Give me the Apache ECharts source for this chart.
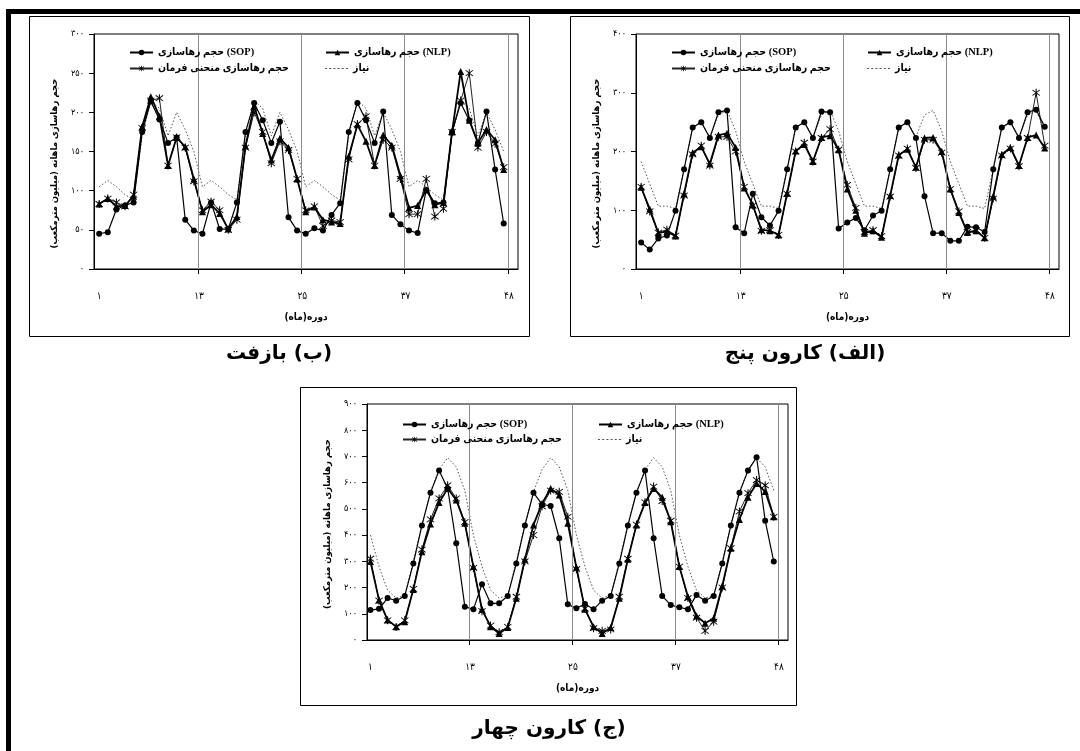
<!DOCTYPE html>
<html>
<head>
    <meta charset="utf-8"/>
    <title>حجم رهاسازی ماهانه</title>
    <script src="https://cdn.jsdelivr.net/npm/echarts@6/dist/echarts.min.js"></script>
    <style>body{margin:0;background:#fff;}</style>
</head>
<body>

<div id="main" style="width:1080px;height:751px;"></div>

<script>
    // ماه ها (۱ تا ۴۸)
    var months = [];
    for (var m = 1; m <= 48; m++) months.push(m);

    var xTickLabels = ['۱', '۱۳', '۲۵', '۳۷', '۴۸'];
    var xLabelPos = [1, 12.6, 24.6, 36.6, 48.6];
    var xGridPos = [12.5, 24.5, 36.5, 48.5];

    var nameSOP = 'حجم رهاسازی (SOP)';
    var nameNLP = 'حجم رهاسازی (NLP)';
    var nameRule = 'حجم رهاسازی منحنی فرمان';
    var nameDemand = 'نیاز';

    // (ب) بازفت
    var bazoftSOP = [45,47,76,81,85,175,214,191,161,168,63,49, 45,85,51,51,85,175,212,190,161,188,66,49,
                     45,52,49,69,84,175,212,190,161,201,69,57, 49,46,101,84,85,175,212,190,161,201,127,58];
    var bazoftNLP = [83,90,80,81,93,182,220,195,132,168,156,115, 73,82,71,51,67,157,208,173,139,167,155,115,
                     73,79,63,60,58,144,184,163,132,171,158,119, 78,81,101,82,85,175,252,190,161,178,165,127];
    var bazoftRule = [83,90,85,80,95,180,215,218,132,168,155,112, 75,86,75,50,63,155,200,175,135,163,152,115,
                      75,80,55,62,60,140,185,195,132,165,155,115, 70,70,115,67,77,175,215,250,155,175,160,130];
    var bazoftDemand = [105,113,105,95,88,170,215,205,170,200,178,150, 105,113,105,95,88,170,215,205,170,200,178,150,
                        105,113,105,95,88,170,215,205,170,200,178,150, 105,113,105,95,88,170,215,205,170,200,178,150];

    // (الف) کارون پنج
    var karun5SOP = [45,33,52,57,99,170,241,250,223,267,270,71, 61,128,88,74,99,170,241,250,223,268,267,69,
                     79,87,66,91,99,170,241,250,223,124,61,61, 48,48,72,71,63,170,241,250,223,267,271,242];
    var karun5NLP = [139,102,61,64,56,128,198,208,179,228,231,207, 138,109,67,65,58,129,201,212,183,224,227,203,
                     136,100,61,65,54,125,194,204,173,223,224,200, 136,96,62,65,53,124,195,207,176,224,228,206];
    var karun5Rule = [140,98,62,67,57,125,195,210,176,225,225,200, 140,108,65,66,58,128,200,215,183,223,238,203,
                      143,104,63,66,56,123,193,205,172,220,220,198, 136,98,63,66,53,120,193,205,175,223,300,210];
    var karun5Demand = [183,145,107,107,103,170,241,250,225,262,270,235, 183,145,107,107,103,170,241,250,225,262,270,235,
                        183,145,107,107,103,170,241,250,225,262,270,235, 183,145,107,107,103,170,241,250,225,262,270,235];

    // (ج) کارون چهار
    var karun4SOP = [114,119,160,150,168,292,437,562,646,578,369,127, 117,213,140,140,168,292,437,562,517,511,388,136,
                     121,137,117,150,168,292,437,562,646,388,168,133, 125,117,172,150,168,292,437,562,646,697,455,299];
    var karun4NLP = [299,153,76,51,70,193,337,442,524,578,534,445, 280,117,51,25,48,159,308,439,521,578,553,445,
                     277,117,51,25,48,159,308,439,524,578,544,451, 280,165,92,64,83,206,350,460,544,597,566,470];
    var karun4Rule = [310,150,75,50,75,195,345,460,540,590,540,450, 275,110,55,30,50,165,300,400,510,570,565,470,
                      270,120,45,35,40,165,310,440,525,585,530,455, 280,160,85,35,70,200,350,490,560,610,590,470];
    var karun4Demand = [400,280,190,160,170,300,440,565,650,695,660,570, 400,280,190,160,170,300,440,565,650,695,660,570,
                        400,280,190,160,170,300,440,565,650,695,660,570, 400,280,190,160,170,300,440,565,650,695,660,570];

    var captions = ['(ب) بازفت', '(الف) کارون پنج', '(ج) کارون چهار'];

    var faFont = '"DejaVu Sans Condensed", "DejaVu Sans"';
    var legendFont = '"Liberation Serif", "DejaVu Sans Condensed", "DejaVu Sans"';
    var starPath = 'path://M-0.6,-6L0.6,-6L0.6,6L-0.6,6Z M-4.67,-3.83L-3.83,-4.67L4.67,3.83L3.83,4.67Z M3.83,-4.67L4.67,-3.83L-3.83,4.67L-4.67,3.83Z';
    var dotsPath = 'path://M0,0H2V1H0Z M4,0H6V1H4Z M8,0H10V1H8Z M12,0H14V1H12Z M16,0H18V1H16Z M20,0H22V1H20Z';

    function fa(n) {
        return String(n).replace(/\d/g, function (d) { return '۰۱۲۳۴۵۶۷۸۹'[d]; });
    }
    function rtl(s) {
        return '\u202B' + s + '\u202C';
    }
    function pairs(arr) {
        return months.map(function (mm, i) { return [mm, arr[i]]; });
    }

    var panels = [
        {grid: {left: 94, top: 34, width: 424, height: 235}, xMin: 0.4, yMax: 300, yStep: 50,
            sop: bazoftSOP, nlp: bazoftNLP, rule: bazoftRule, demand: bazoftDemand, nameShift: 24,
            rows: [53, 69], box: [29, 16, 500, 320], cover: [120, 39, 338, 40], caption: [279, 354]},
        {grid: {left: 636, top: 34, width: 423, height: 235}, xMin: 0.4, yMax: 400, yStep: 100,
            sop: karun5SOP, nlp: karun5NLP, rule: karun5Rule, demand: karun5Demand, nameShift: 24,
            rows: [53, 69], box: [570, 16, 499, 320], cover: [660, 39, 340, 40], caption: [805, 354]},
        {grid: {left: 367, top: 404, width: 421, height: 236}, xMin: 0.6, yMax: 900, yStep: 100,
            sop: karun4SOP, nlp: karun4NLP, rule: karun4Rule, demand: karun4Demand, nameShift: 4,
            rows: [425, 440], box: [300, 387, 496, 318], cover: [392, 411, 340, 37], caption: [549, 729]}
    ];

    var option = {
        backgroundColor: '#fff',
        animation: false,
        grid: [], xAxis: [], yAxis: [], series: [], legend: [], graphic: []
    };

    option.graphic.push({type: 'rect', shape: {x: 6, y: 9, width: 1074, height: 5}, style: {fill: '#000'}});
    option.graphic.push({type: 'rect', shape: {x: 6, y: 9, width: 5, height: 742}, style: {fill: '#000'}});

    panels.forEach(function (p, k) {
        option.grid.push({left: p.grid.left, top: p.grid.top, width: p.grid.width, height: p.grid.height,
            show: true, borderColor: '#000', borderWidth: 1, backgroundColor: 'transparent'});

        option.xAxis.push({
            type: 'value', gridIndex: k, min: p.xMin, max: 49.66,
            name: rtl('دوره(ماه)'), nameLocation: 'middle', nameGap: 43,
            nameTextStyle: {fontFamily: faFont, fontSize: 10, fontWeight: 'bold', color: '#000'},
            axisLine: {lineStyle: {color: '#000', width: 1}},
            axisTick: {show: true, length: 5, customValues: xGridPos, lineStyle: {color: '#000'}},
            axisLabel: {customValues: xLabelPos, margin: 22, fontFamily: faFont, fontSize: 10, color: '#000',
                formatter: function (v) { return xTickLabels[xLabelPos.indexOf(v)]; }},
            splitLine: {show: false}
        });

        option.yAxis.push({
            type: 'value', gridIndex: k, min: 0, max: p.yMax, interval: p.yStep,
            name: rtl('حجم رهاسازی ماهانه (میلیون مترمکعب)'), nameLocation: 'middle', nameGap: 34,
            nameTextStyle: {fontFamily: faFont, fontSize: 9.5, fontWeight: 'bold', color: '#000',
                padding: [0, p.nameShift, 0, 0]},
            axisLine: {show: true, lineStyle: {color: '#000', width: 1}},
            axisTick: {show: true, length: 5, lineStyle: {color: '#000'}},
            axisLabel: {margin: 10, fontFamily: faFont, fontSize: 9, color: '#000', formatter: fa},
            splitLine: {show: false}
        });

        option.series.push({
            name: nameDemand, type: 'line', xAxisIndex: k, yAxisIndex: k, z: 1,
            data: pairs(p.demand), showSymbol: false, symbol: 'none',
            lineStyle: {color: '#555', width: 1, type: [1.5, 2]}, itemStyle: {color: '#555'},
            markLine: {silent: true, symbol: 'none', label: {show: false},
                lineStyle: {color: '#8c8c8c', width: 1, type: 'solid'},
                data: xGridPos.map(function (v) { return {xAxis: v}; })}
        });
        option.series.push({
            name: nameRule, type: 'line', xAxisIndex: k, yAxisIndex: k, z: 2,
            data: pairs(p.rule), symbol: starPath, symbolSize: 8,
            lineStyle: {color: '#222', width: 1}, itemStyle: {color: '#000'}
        });
        option.series.push({
            name: nameNLP, type: 'line', xAxisIndex: k, yAxisIndex: k, z: 3,
            data: pairs(p.nlp), symbol: 'triangle', symbolSize: 7,
            lineStyle: {color: '#000', width: 1.8}, itemStyle: {color: '#000'}
        });
        option.series.push({
            name: nameSOP, type: 'line', xAxisIndex: k, yAxisIndex: k, z: 4,
            data: pairs(p.sop), symbol: 'circle', symbolSize: 6,
            lineStyle: {color: '#000', width: 1.2}, itemStyle: {color: '#000'}
        });

        // legend: 2 x 2
        var cells = [[nameSOP, 35, 0], [nameNLP, 231, 0], [nameRule, 35, 1], [nameDemand, 231, 1]];
        cells.forEach(function (c) {
            var item = c[0] === nameDemand ? {name: c[0], icon: dotsPath} : {name: c[0]};
            option.legend.push({
                data: [item], left: p.grid.left + c[1], top: p.rows[c[2]] - 6, padding: 0,
                itemWidth: 23, itemHeight: c[0] === nameDemand ? 1.2 : 7, itemGap: 4, selectedMode: false, z: 6,
                textStyle: {fontFamily: legendFont, fontSize: 10.5, fontWeight: 'bold', color: '#000'}
            });
        });

        option.graphic.push({type: 'rect', z: 5, shape: {x: p.cover[0], y: p.cover[1], width: p.cover[2], height: p.cover[3]},
            style: {fill: '#fff'}});
        option.graphic.push({type: 'rect', shape: {x: p.box[0] + 0.5, y: p.box[1] + 0.5, width: p.box[2], height: p.box[3]},
            style: {fill: 'none', stroke: '#000', lineWidth: 1}});
        option.graphic.push({type: 'text', x: p.caption[0], y: p.caption[1],
            style: {text: rtl(captions[k]), font: 'bold 20px "DejaVu Sans"', fill: '#000', align: 'center', verticalAlign: 'middle'}});
    });

    var myChart = echarts.init(document.getElementById('main'));
    myChart.setOption(option);
</script>
</body>
</html>
